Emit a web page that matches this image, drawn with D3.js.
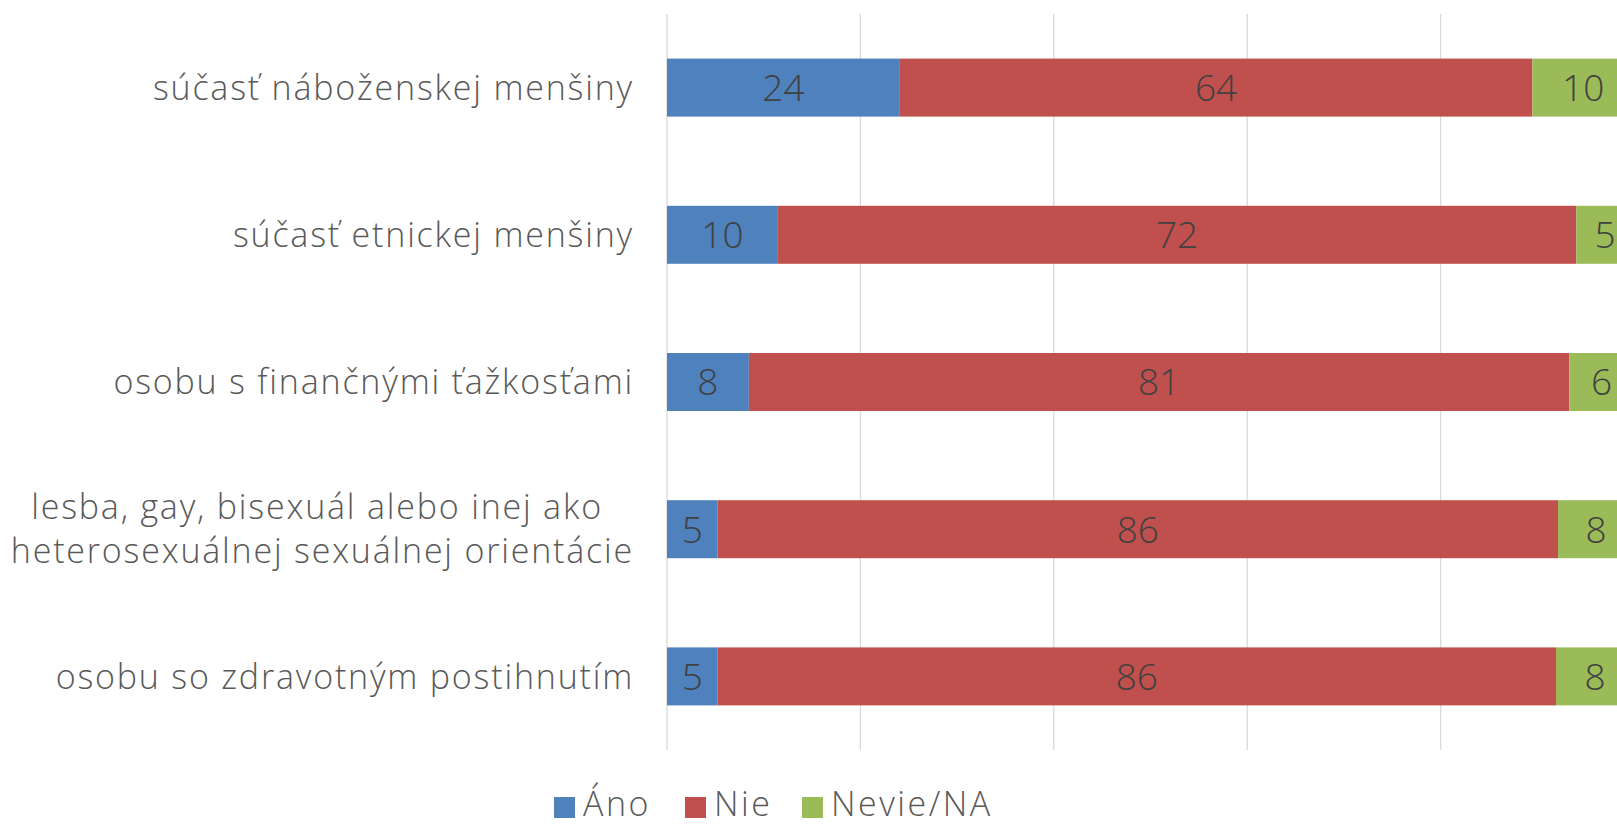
<!DOCTYPE html>
<html>
<head>
<meta charset="utf-8">
<script src="https://cdn.jsdelivr.net/npm/d3@7"></script>
<style>
  body { margin: 0; background: #fff; }
  text { font-family: "Open Sans", Lato, sans-serif; font-weight: 300; }
</style>
</head>
<body>
<div id="chart"></div>
<script>
// categories (top to bottom) and series values
var categories = [
  "súčasť náboženskej menšiny",
  "súčasť etnickej menšiny",
  "osobu s finančnými ťažkosťami",
  "lesba, gay, bisexuál alebo inej ako |heterosexuálnej sexuálnej orientácie",
  "osobu so zdravotným postihnutím"
];
var series = ["Áno", "Nie", "Nevie/NA"];
var ano = [23.6, 10.0, 8.1, 5.2, 5.2];
var nie = [64.1, 72.0, 81.2, 86.3, 86.0];
var nevie = [10.3, 5.2, 6.4, 7.8, 8.0];
var colors = ["#4F81BD", "#C0504D", "#9BBB59"];
var xTicks = [0, 20, 40, 60, 80, 100];

var svgWidth = 1617;
var svgHeight = 824;

var margin = {top: 14, left: 667, bottom: 74};

var svg = d3.select("#chart")
  .append("svg")
  .attr("width", svgWidth)
  .attr("height", svgHeight);

// rows as percentages of the row total (100% stacked)
var rows = categories.map(function(c, i) {
  var vals = [ano[i], nie[i], nevie[i]];
  var total = d3.sum(vals);
  var x0 = 0;
  return {
    cat: c,
    parts: vals.map(function(v, j) {
      var p = {key: series[j], value: v, x0: x0, x1: x0 + v / total * 100};
      x0 = p.x1;
      return p;
    })
  };
});

var x = d3.scaleLinear()
  .domain([0, 100])
  .range([margin.left, margin.left + 967]);

var y = d3.scaleBand()
  .domain(categories)
  .range([margin.top, svgHeight - margin.bottom])
  .paddingInner(0.606)
  .paddingOuter(0.303);

var color = d3.scaleOrdinal().domain(series).range(colors);

// vertical gridlines
svg.append("g")
  .selectAll("line")
  .data(xTicks)
  .enter()
  .append("line")
  .attr("x1", d => x(d))
  .attr("x2", d => x(d))
  .attr("y1", margin.top)
  .attr("y2", svgHeight - margin.bottom)
  .attr("stroke", "#d9d9d9")
  .attr("stroke-width", 1.3);

// bars
var rowG = svg.selectAll(".row")
  .data(rows)
  .enter()
  .append("g")
  .attr("class", "row");

rowG.selectAll("rect")
  .data(d => d.parts.map(p => Object.assign({cat: d.cat}, p)))
  .enter()
  .append("rect")
  .attr("x", d => x(d.x0))
  .attr("y", d => y(d.cat))
  .attr("width", d => x(d.x1) - x(d.x0))
  .attr("height", y.bandwidth())
  .attr("fill", d => color(d.key));

// data labels
rowG.selectAll(".lbl")
  .data(d => d.parts.map(p => Object.assign({cat: d.cat}, p)))
  .enter()
  .append("text")
  .attr("class", "lbl")
  .attr("x", d => (x(d.x0) + x(d.x1)) / 2)
  .attr("y", d => y(d.cat) + y.bandwidth() / 2)
  .attr("dy", "0.36em")
  .attr("text-anchor", "middle")
  .style("font-size", "37px")
  .style("fill", "#404040")
  .text(d => Math.round(d.value));

// category labels
var labelRight = 634;
svg.selectAll(".cat")
  .data(categories)
  .enter()
  .append("text")
  .attr("class", "cat")
  .style("font-size", "34px")
  .style("letter-spacing", "1.8px")
  .style("fill", "#595959")
  .style("white-space", "pre")
  .each(function(d) {
    var t = d3.select(this);
    var lines = d.split("|");
    var cy = y(d) + y.bandwidth() / 2;
    var lh = 44;
    var spans = lines.map(function(l, i) {
      return t.append("tspan")
        .attr("y", cy + (i - (lines.length - 1) / 2) * lh)
        .attr("dy", "0.36em")
        .text(l);
    });
    if (lines.length === 1) {
      t.attr("text-anchor", "end");
      spans[0].attr("x", labelRight);
    } else {
      var w = d3.max(spans, s => s.node().getComputedTextLength());
      t.attr("text-anchor", "middle");
      spans.forEach(s => s.attr("x", labelRight - w / 2));
    }
  });

// legend
var legendX = [554, 685, 802];
var legend = svg.selectAll(".leg")
  .data(series)
  .enter()
  .append("g")
  .attr("class", "leg")
  .attr("transform", (d, i) => `translate(${legendX[i]}, 797)`);

legend.append("rect")
  .attr("width", 21)
  .attr("height", 21)
  .attr("fill", d => color(d));

legend.append("text")
  .attr("x", 29)
  .attr("y", 19)
  .style("font-size", "34px")
  .style("letter-spacing", "2.5px")
  .style("fill", "#595959")
  .text(d => d);
</script>
</body>
</html>
